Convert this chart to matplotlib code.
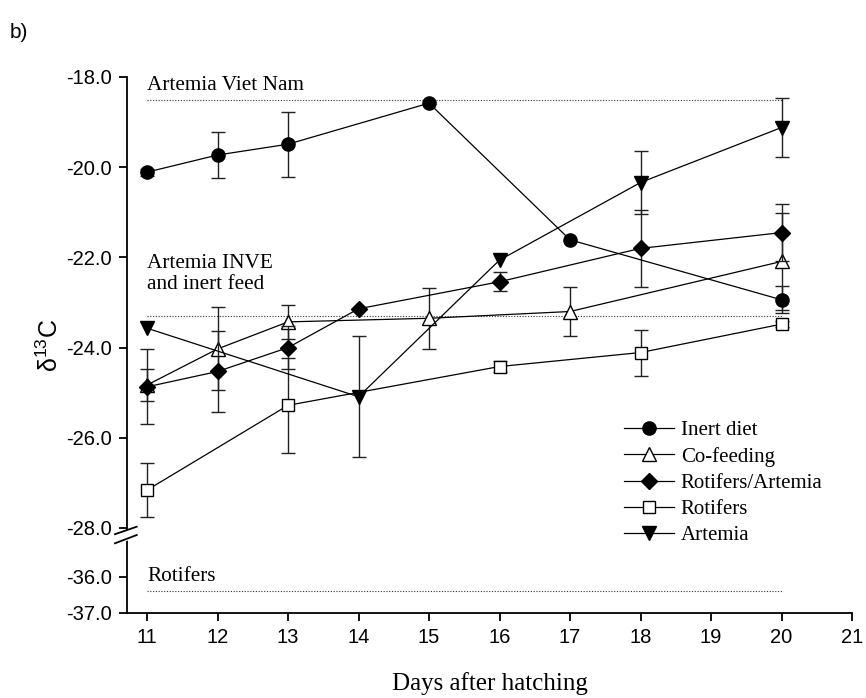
#!/usr/bin/env python
# d13C of larvae against days after hatching, broken y axis

import numpy as np
import matplotlib
matplotlib.use('Agg')
import matplotlib.pyplot as plt
from matplotlib.ticker import FixedLocator, FuncFormatter

# data
days_inert   = [11, 12, 13, 15, 17, 20]
inert        = [-20.11, -19.73, -19.49, -18.58, -21.61, -22.94]
inert_err    = [0.08, 0.50, 0.72, 0.0, 0.0, 0.30]

days_cofeed  = [11, 12, 13, 15, 17, 20]
cofeed       = [-24.83, -24.03, -23.43, -23.35, -23.20, -22.09]
cofeed_err   = [0.35, 0.92, 0.38, 0.68, 0.55, 1.07]

days_rotart  = [11, 12, 13, 14, 16, 18, 20]
rotart       = [-24.87, -24.53, -24.00, -23.14, -22.54, -21.80, -21.45]
rotart_err   = [0.83, 0.89, 0.48, 0.0, 0.21, 0.85, 0.63]

days_rot     = [11, 13, 16, 18, 20]
rot          = [-27.16, -25.28, -24.42, -24.11, -23.48]
rot_err      = [0.60, 1.05, 0.12, 0.51, 0.07]

days_art     = [11, 14, 16, 18, 20]
art          = [-23.57, -25.09, -22.06, -20.34, -19.12]
art_err      = [0.0, 1.34, 0.0, 0.69, 0.66]

ref_viet     = -18.5
ref_inve     = -23.3
ref_rotifers = -36.4

yticks  = [-18, -20, -22, -24, -26, -28, -36, -37]
xticks  = list(range(11, 22))

SERIF = 'Liberation Serif'
SANS  = 'Liberation Sans'

# piecewise y scale: -28..-18 normal, -36..-28 squeezed, -37..-36 own scale
F36 = -29.086
F37 = -29.885
K1  = (F36 + 28) / -8.0
K2  = (F37 - F36) / -1.0

def forward(y):
	y = np.asarray(y, dtype=float)
	return np.where(y >= -28, y, np.where(y >= -36, -28 + (y + 28) * K1, F36 + (y + 36) * K2))

def inverse(f):
	f = np.asarray(f, dtype=float)
	return np.where(f >= -28, f, np.where(f >= F36, -28 + (f + 28) / K1, -36 + (f - F36) / K2))

def noerr(e):
	# zero means no bar was drawn
	e = np.asarray(e, dtype=float)
	return np.where(e > 0, e, np.nan)

# figure
fig = plt.figure(figsize=(8.66, 6.98), dpi=100)
ax  = fig.add_axes([127 / 866, 1 - 613 / 698, 725 / 866, 536 / 698])
ax.set_yscale('function', functions=(forward, inverse))

style = dict(color='black', ecolor='#222222', elinewidth=1.0, capsize=5, capthick=1.0,
             linewidth=0.9, markeredgecolor='black', markeredgewidth=1.0)

series = [
	(days_inert,  inert,  inert_err,  'o', 'black', 9.5, 'Inert diet'),
	(days_cofeed, cofeed, cofeed_err, '^', 'white', 9.5, 'Co-feeding'),
	(days_rotart, rotart, rotart_err, 'D', 'black', 8.5, 'Rotifers/Artemia'),
	(days_rot,    rot,    rot_err,    's', 'white', 8.5, 'Rotifers'),
	(days_art,    art,    art_err,    'v', 'black', 9.5, 'Artemia'),
]

handles, labels = [], []
for x, y, e, m, fc, ms, name in series:
	c = ax.errorbar(x, y, yerr=noerr(e), fmt='-' + m, markerfacecolor=fc, markersize=ms,
	                zorder=5 if fc == 'black' else 4, **style)
	handles.append(c.lines[0])
	labels.append(name)

# reference lines
for val in (ref_viet, ref_inve, ref_rotifers):
	ax.hlines(val, 11, 20, colors='#333333', linestyles=(0, (1, 1.5)), linewidth=0.8, zorder=1)
ax.text(11, -18.28, 'Artemia Viet Nam', family=SERIF, fontsize=15.3, ha='left', va='baseline')
ax.text(11, -22.7, 'Artemia INVE\nand inert feed', family=SERIF, fontsize=15.3, ha='left', va='baseline', linespacing=1.15)
ax.text(11, -36.1, 'Rotifers', family=SERIF, fontsize=15.3, ha='left', va='baseline')

# axes
ax.set_xlim(10.716, 21)
ax.set_ylim(-37, -18)
ax.xaxis.set_major_locator(FixedLocator(xticks))
ax.yaxis.set_major_locator(FixedLocator(yticks))
ax.yaxis.set_minor_locator(FixedLocator([]))
ax.yaxis.set_major_formatter(FuncFormatter(lambda v, p: '%.1f' % v))
ax.spines['top'].set_visible(False)
ax.spines['right'].set_visible(False)
for s in ('left', 'bottom'):
	ax.spines[s].set_linewidth(1.3)
ax.tick_params(direction='out', length=6, width=1.3, labelsize=14.5, pad=5)
for lab in ax.get_xticklabels() + ax.get_yticklabels():
	lab.set_family(SANS)

ax.set_xlabel('Days after hatching', family=SERIF, fontsize=18, labelpad=18)
ax.set_ylabel(r'$\mathregular{\delta^{13}C}$', family=SANS, fontsize=18, labelpad=2)

# axis break marks
ax.fill([-0.02, 0.02, 0.02, -0.02], [0.127, 0.145, 0.161, 0.147], color='white', transform=ax.transAxes,
        clip_on=False, zorder=6)
for y0, y1 in ((0.147, 0.161), (0.130, 0.1455)):
	ax.plot([-0.0166, 0.0134], [y0, y1], color='black', linewidth=1.3, transform=ax.transAxes, clip_on=False, zorder=7)

# legend
leg = ax.legend(handles, labels, loc='upper left', bbox_to_anchor=(614 / 866, 1 - 410 / 698),
                bbox_transform=fig.transFigure, frameon=False, prop={'family': SERIF, 'size': 15},
                handlelength=2.4, handletextpad=0.3, labelspacing=0.32, borderpad=0)

fig.text(10 / 866, 1 - 38 / 698, 'b)', family=SANS, fontsize=15)

fig.savefig('out.png', dpi=100)
